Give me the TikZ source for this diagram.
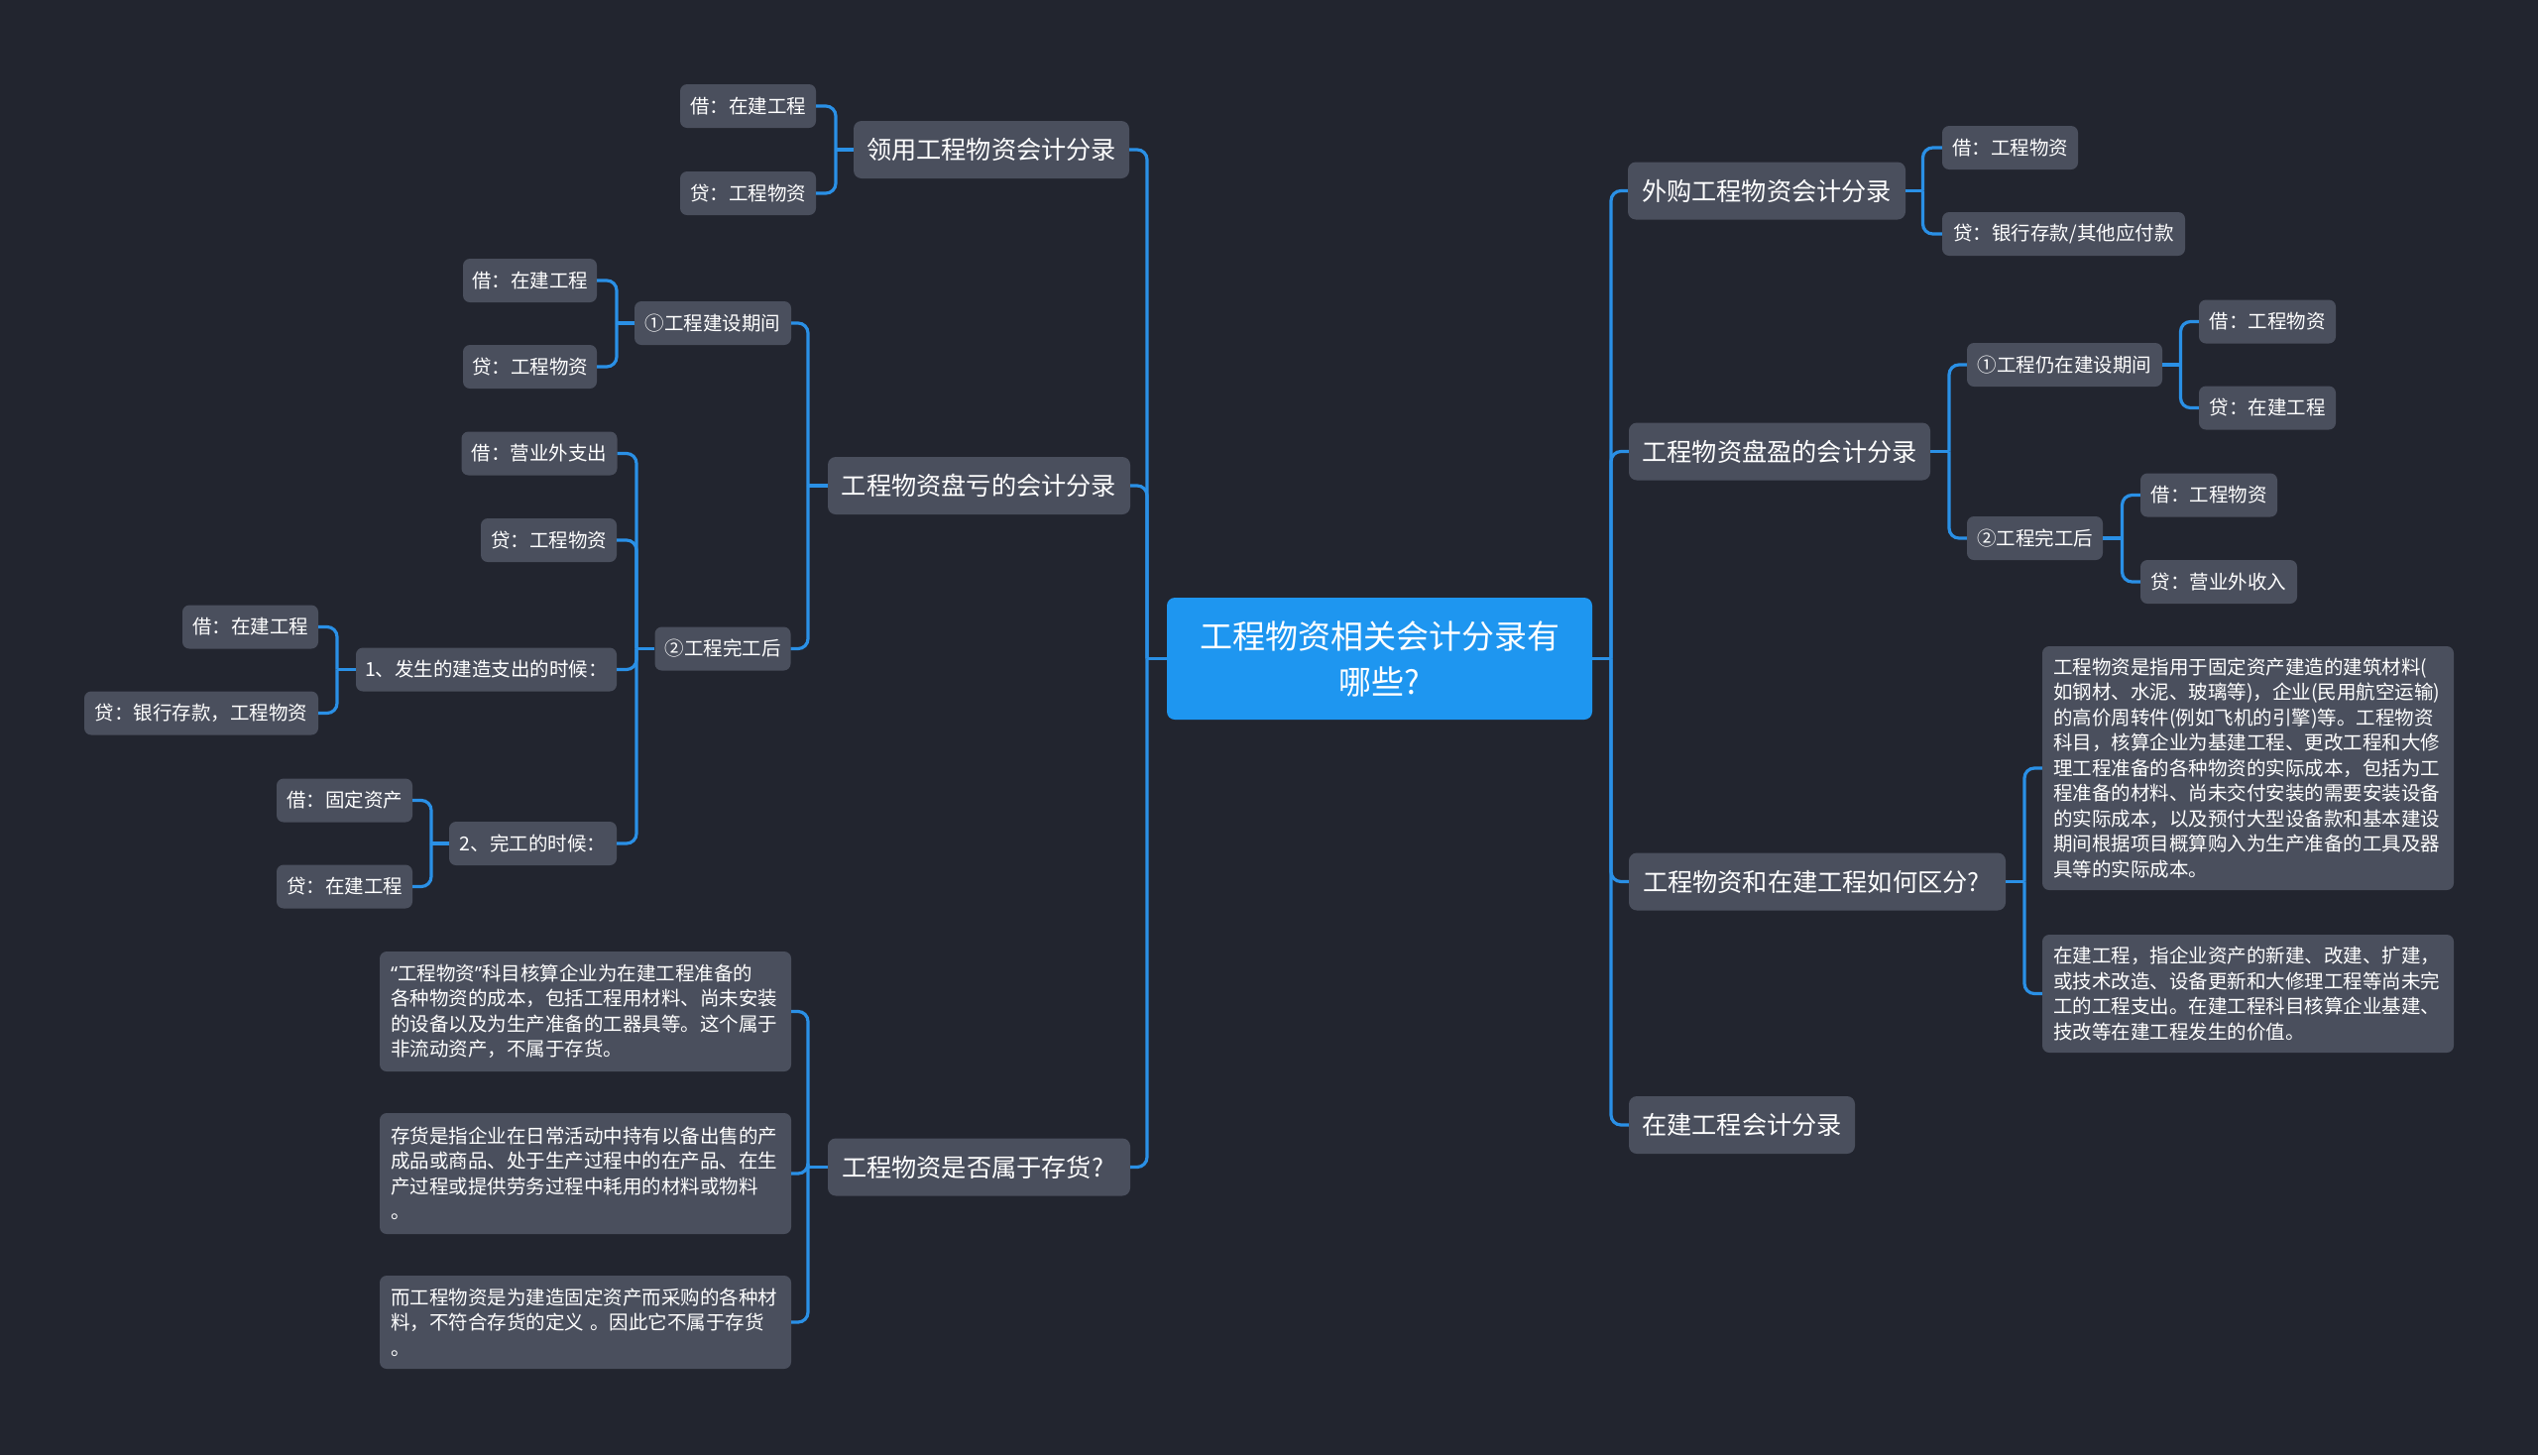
\documentclass[tikz,border=0pt]{standalone}
\usepackage{fontspec}
\setmainfont{Noto Sans CJK SC}
\newfontfamily\quotefont{Noto Sans}
\definecolor{bgcol}{HTML}{22252F}
\definecolor{nodefill}{HTML}{4A4F5D}
\definecolor{conncol}{HTML}{2A90E6}
\definecolor{rootfill}{HTML}{1E96F0}
\tikzset{
  box/.style={fill=nodefill, text=white, rounded corners=7pt, inner sep=0pt, align=center},
  lvone/.style={box, rounded corners=8pt, font=\fontsize{25.2pt}{30pt}\selectfont, minimum height=58pt},
  leaf/.style={box, font=\fontsize{19.5pt}{24pt}\selectfont, minimum height=44pt},
  para/.style={box, font=\fontsize{19.5pt}{25.5pt}\selectfont, align=left, text width=393pt, minimum width=415pt},
  rootnode/.style={fill=rootfill, text=white, rounded corners=8pt, inner sep=0pt, font=\fontsize{33pt}{46pt}\selectfont, align=center, minimum width=429pt, minimum height=123pt},
  conn/.style={draw=conncol, line width=3.2pt, rounded corners=10pt}
}
\begin{document}
\begin{tikzpicture}[x=1pt,y=-1pt]
\fill[bgcol] (0,0) rectangle (2560,1468);
\useasboundingbox (0,0) rectangle (2560,1468);

% root
\node[rootnode] (root) at (1391.5,664.5) {工程物资相关会计分录有\\哪些?};

% left level one
\node[lvone, minimum width=278pt] (L1) at (1000,151) {领用工程物资会计分录};
\node[lvone, minimum width=305pt] (L2) at (987.5,490) {工程物资盘亏的会计分录};
\node[lvone, minimum width=305pt, text width=277pt, align=left] (L3) at (987.5,1177.5) {工程物资是否属于存货?};

% right level one
\node[lvone, minimum width=280pt] (R1) at (1782,192.5) {外购工程物资会计分录};
\node[lvone, minimum width=304pt] (R2) at (1795,455.5) {工程物资盘盈的会计分录};
\node[lvone, minimum width=380pt, text width=352pt, align=left] (R3) at (1833,889.5) {工程物资和在建工程如何区分?};
\node[lvone, minimum width=228pt] (R4) at (1757,1135) {在建工程会计分录};

% L1 leaves
\node[leaf, minimum width=137pt] (a1) at (754.5,107) {借：在建工程};
\node[leaf, minimum width=137pt] (a2) at (754.5,195) {贷：工程物资};

% L2 subtree
\node[leaf, minimum width=158pt] (b1) at (719,326) {①工程建设期间};
\node[leaf, minimum width=135pt] (b11) at (534.5,283) {借：在建工程};
\node[leaf, minimum width=135pt] (b12) at (534.5,370) {贷：工程物资};
\node[leaf, minimum width=137pt] (b2) at (729,654.5) {②工程完工后};
\node[leaf, minimum width=157pt] (b21) at (544,457.5) {借：营业外支出};
\node[leaf, minimum width=137pt] (b22) at (553.5,545) {贷：工程物资};
\node[leaf, minimum width=263pt] (b23) at (490.5,675.5) {1、发生的建造支出的时候：};
\node[leaf, minimum width=137pt] (b231) at (252.5,632.5) {借：在建工程};
\node[leaf, minimum width=236pt] (b232) at (203,719.5) {贷：银行存款，工程物资};
\node[leaf, minimum width=169pt] (b24) at (537.5,851) {2、完工的时候：};
\node[leaf, minimum width=137pt] (b241) at (347.5,807.5) {借：固定资产};
\node[leaf, minimum width=137pt] (b242) at (347.5,894.5) {贷：在建工程};

% L3 paragraphs
\node[para, minimum height=121pt] (c1) at (590.5,1020.5) {{\quotefont “}工程物资{\quotefont ”}科目核算企业为在建工程准备的\\各种物资的成本，包括工程用材料、尚未安装\\的设备以及为生产准备的工器具等。这个属于\\非流动资产，不属于存货。};
\node[para, minimum height=122pt] (c2) at (590.5,1184) {存货是指企业在日常活动中持有以备出售的产\\成品或商品、处于生产过程中的在产品、在生\\产过程或提供劳务过程中耗用的材料或物料\\。};
\node[para, minimum height=94pt] (c3) at (590.5,1334) {而工程物资是为建造固定资产而采购的各种材\\料，不符合存货的定义 。因此它不属于存货\\。};

% R1 leaves
\node[leaf, minimum width=137pt] (ra1) at (2027.5,149) {借：工程物资};
\node[leaf, minimum width=245pt] (ra2) at (2081.5,236) {贷：银行存款/其他应付款};

% R2 subtree
\node[leaf, minimum width=197pt] (rb1) at (2082.5,368) {①工程仍在建设期间};
\node[leaf, minimum width=138pt] (rb11) at (2287,324.5) {借：工程物资};
\node[leaf, minimum width=138pt] (rb12) at (2287,411.5) {贷：在建工程};
\node[leaf, minimum width=137pt] (rb2) at (2052.5,543) {②工程完工后};
\node[leaf, minimum width=138pt] (rb21) at (2228,499.5) {借：工程物资};
\node[leaf, minimum width=158pt] (rb22) at (2238,587) {贷：营业外收入};

% R3 paragraphs
\node[para, minimum height=246pt] (rc1) at (2267.5,775) {工程物资是指用于固定资产建造的建筑材料(\\如钢材、水泥、玻璃等)，企业(民用航空运输)\\的高价周转件(例如飞机的引擎)等。工程物资\\科目，核算企业为基建工程、更改工程和大修\\理工程准备的各种物资的实际成本，包括为工\\程准备的材料、尚未交付安装的需要安装设备\\的实际成本，以及预付大型设备款和基本建设\\期间根据项目概算购入为生产准备的工具及器\\具等的实际成本。};
\node[para, minimum height=119pt] (rc2) at (2267.5,1002.5) {在建工程，指企业资产的新建、改建、扩建，\\或技术改造、设备更新和大修理工程等尚未完\\工的工程支出。在建工程科目核算企业基建、\\技改等在建工程发生的价值。};

% junctions
\coordinate (jL) at (1157,664.5);
\coordinate (jR) at (1625,664.5);
\coordinate (jA) at (843,151);
\coordinate (jB) at (815,490);
\coordinate (jB1) at (622,326);
\coordinate (jB2) at (642,654.5);
\coordinate (jB23) at (340,675.5);
\coordinate (jB24) at (435,851);
\coordinate (jC) at (815,1177.5);
\coordinate (jRA) at (1939.5,192.5);
\coordinate (jRB) at (1966,455.5);
\coordinate (jRB1) at (2199.5,368);
\coordinate (jRB2) at (2140.5,543);
\coordinate (jRC) at (2042,889.5);

% connectors: root
\draw[conn] (root.west) -- (jL);
\draw[conn] (jL) |- (L1.east);
\draw[conn] (jL) |- (L2.east);
\draw[conn] (jL) |- (L3.east);
\draw[conn] (root.east) -- (jR);
\draw[conn] (jR) |- (R1.west);
\draw[conn] (jR) |- (R2.west);
\draw[conn] (jR) |- (R3.west);
\draw[conn] (jR) |- (R4.west);

% left subtrees
\draw[conn] (L1.west) -- (jA);
\draw[conn] (jA) |- (a1.east);
\draw[conn] (jA) |- (a2.east);

\draw[conn] (L2.west) -- (jB);
\draw[conn] (jB) |- (b1.east);
\draw[conn] (jB) |- (b2.east);
\draw[conn] (b1.west) -- (jB1);
\draw[conn] (jB1) |- (b11.east);
\draw[conn] (jB1) |- (b12.east);
\draw[conn] (b2.west) -- (jB2);
\draw[conn] (jB2) |- (b21.east);
\draw[conn] (jB2) |- (b22.east);
\draw[conn] (jB2) |- (b23.east);
\draw[conn] (jB2) |- (b24.east);
\draw[conn] (b23.west) -- (jB23);
\draw[conn] (jB23) |- (b231.east);
\draw[conn] (jB23) |- (b232.east);
\draw[conn] (b24.west) -- (jB24);
\draw[conn] (jB24) |- (b241.east);
\draw[conn] (jB24) |- (b242.east);

\draw[conn] (L3.west) -- (jC);
\draw[conn] (jC) |- (c1.east);
\draw[conn] (jC) |- (c2.east);
\draw[conn] (jC) |- (c3.east);

% right subtrees
\draw[conn] (R1.east) -- (jRA);
\draw[conn] (jRA) |- (ra1.west);
\draw[conn] (jRA) |- (ra2.west);

\draw[conn] (R2.east) -- (jRB);
\draw[conn] (jRB) |- (rb1.west);
\draw[conn] (jRB) |- (rb2.west);
\draw[conn] (rb1.east) -- (jRB1);
\draw[conn] (jRB1) |- (rb11.west);
\draw[conn] (jRB1) |- (rb12.west);
\draw[conn] (rb2.east) -- (jRB2);
\draw[conn] (jRB2) |- (rb21.west);
\draw[conn] (jRB2) |- (rb22.west);

\draw[conn] (R3.east) -- (jRC);
\draw[conn] (jRC) |- (rc1.west);
\draw[conn] (jRC) |- (rc2.west);
\end{tikzpicture}
\end{document}
